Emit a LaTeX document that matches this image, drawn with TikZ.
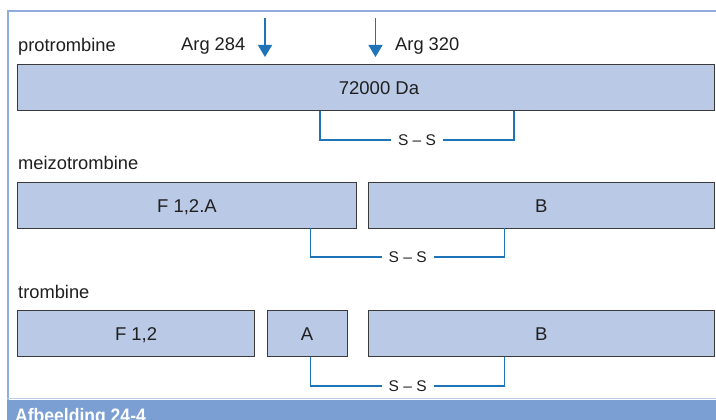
\documentclass[tikz,border=0pt]{standalone}
\usepackage{fontspec}
\setmainfont{Liberation Sans}
\newfontfamily\capfont[FakeStretch=0.9]{Liberation Sans Bold}
\usetikzlibrary{arrows.meta}
\definecolor{boxfill}{HTML}{B9C9E6}
\definecolor{boxline}{HTML}{3A3A3A}
\definecolor{linkblue}{HTML}{1F74B9}
\definecolor{framebl}{HTML}{8FACDC}
\definecolor{capbar}{HTML}{7B9FD3}
\tikzset{
  pbox/.style={draw=boxline, line width=0.9pt, fill=boxfill, anchor=north west, inner sep=0pt},
  boxtxt/.style={anchor=base, inner sep=0pt, font=\fontsize{18.5}{22}\selectfont, text=black!88},
  lbl/.style={anchor=base west, inner sep=0pt, font=\fontsize{18.3}{22}\selectfont, text=black!88},
  sslbl/.style={fill=white, inner xsep=7pt, inner ysep=1pt, font=\fontsize{15.5}{18}\selectfont, text=black!88},
  ssline/.style={draw=linkblue, line width=1.1pt},
  cutarrow/.style={draw=linkblue, line width=1.4pt, -{Triangle[width=14pt,length=12pt]}}
}
\begin{document}
\begin{tikzpicture}[x=1pt,y=-1pt]
\useasboundingbox (0,0) rectangle (716,420);
% frame
\fill[white] (0,0) rectangle (716,420);
\draw[framebl, line width=1.6pt] (8.2,420) -- (8.2,11) -- (730,11);
\fill[capbar] (7.4,399.5) rectangle (730,425);
\draw[framebl!60, line width=0.8pt] (7.4,398.8) -- (730,398.8);
\node[anchor=base west, inner sep=0pt, text=white, font=\capfont\fontsize{19.5}{22}\selectfont] (cap) at (15,422) {Afbeelding 24-4};

% protrombine
\node[lbl] (lp) at (18,52) {protrombine};
\node[lbl] (a284) at (181,51) {Arg 284};
\node[lbl] (a320) at (395,51) {Arg 320};
\node[pbox, minimum width=697, minimum height=45.5] (p) at (17.3,64.5) {};
\node[boxtxt] (pt) at (379,94.5) {72000 Da};
\coordinate (c1top) at (265,18);
\coordinate (c2top) at (375.5,18);
\coordinate (tipy) at (0,57);
\draw[cutarrow] (c1top) -- (c1top |- tipy);
\draw[cutarrow] (c2top) -- (c2top |- tipy);
\node[sslbl] (pss) at (417,140) {S -- S};
\coordinate (px1) at (320,0);
\coordinate (px2) at (514,0);
\draw[ssline] (p.south -| px1) |- (pss.west);
\draw[ssline] (pss.east) -| (p.south -| px2);

% meizotrombine
\node[lbl] (lm) at (18,170) {meizotrombine};
\node[pbox, minimum width=338.4, minimum height=45.3] (m1) at (17.3,182.2) {};
\node[pbox, minimum width=346.3, minimum height=45.3] (m2) at (367.7,182.2) {};
\node[boxtxt] at ([yshift=-7pt]m1.center) {F 1,2.A};
\node[boxtxt] at ([yshift=-7pt]m2.center) {B};
\node[sslbl] (mss) at (407.7,257) {S -- S};
\coordinate (mx1) at (310.7,0);
\coordinate (mx2) at (504.6,0);
\draw[ssline] (m1.south -| mx1) |- (mss.west);
\draw[ssline] (mss.east) -| (m2.south -| mx2);

% trombine
\node[lbl] (lt) at (18,298) {trombine};
\node[pbox, minimum width=236.7, minimum height=46] (t1) at (17.3,310) {};
\node[pbox, minimum width=80, minimum height=46] (t2) at (266.7,310) {};
\node[pbox, minimum width=346.3, minimum height=46] (t3) at (367.7,310) {};
\node[boxtxt] at ([yshift=-7pt]t1.center) {F 1,2};
\node[boxtxt] at ([yshift=-7pt]t2.center) {A};
\node[boxtxt] at ([yshift=-7pt]t3.center) {B};
\node[sslbl] (tss) at (407.7,386) {S -- S};
\draw[ssline] (t2.south -| mx1) |- (tss.west);
\draw[ssline] (tss.east) -| (t3.south -| mx2);
\end{tikzpicture}
\end{document}
